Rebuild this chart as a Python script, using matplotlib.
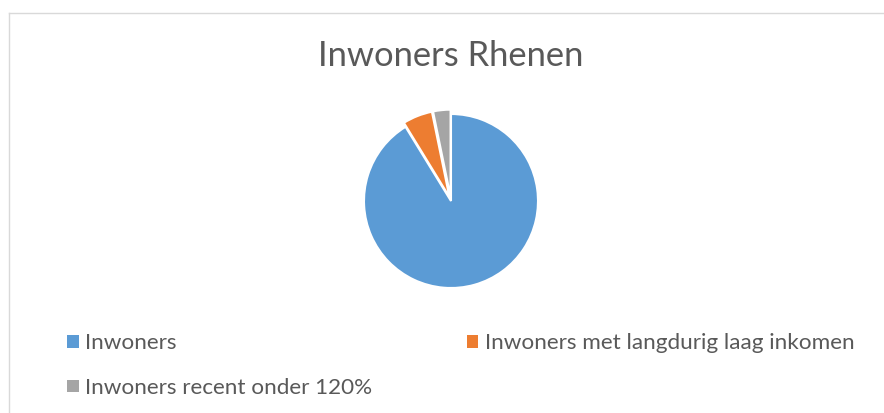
import matplotlib
matplotlib.use('Agg')
import matplotlib.pyplot as plt
from matplotlib.lines import Line2D

# Data
labels = ['Inwoners', 'Inwoners met langdurig laag inkomen', 'Inwoners recent onder 120%']
values = [19800, 1200, 700]
colors = ['#5B9BD5', '#ED7D31', '#A5A5A5']
explode = [0.0, 0.05, 0.05]

plt.rcParams['font.family'] = ['Lato', 'DejaVu Sans']

W, H = 884, 413
fig = plt.figure(figsize=(W / 100, H / 100), dpi=100)

# light border on top and left, like the cropped chart area
fig.add_artist(Line2D([9 / W, 9 / W], [0, 1 - 13 / H], transform=fig.transFigure, color='#D9D9D9', lw=1))
fig.add_artist(Line2D([9 / W, 1], [1 - 13 / H, 1 - 13 / H], transform=fig.transFigure, color='#D9D9D9', lw=1))

cx, cy, r = 451, 201, 87
ax = fig.add_axes([(cx - r) / W, (H - cy - r) / H, 2 * r / W, 2 * r / H])
wedges, _ = ax.pie(values, colors=colors, startangle=90, counterclock=False,
                   explode=explode, radius=1.0,
                   wedgeprops=dict(edgecolor='white', linewidth=1.5))
ax.set_xlim(-1, 1)
ax.set_ylim(-1, 1)
ax.set_aspect('auto')
ax.axis('off')

fig.text(451 / W, 1 - 56 / H, 'Inwoners Rhenen', ha='center', va='center',
         fontsize=24.8, color='#595959')

# legend: row-major order for two columns
order = [0, 2, 1]
leg = fig.legend([wedges[i] for i in order], [labels[i] for i in order],
                 ncol=2, loc='upper left', bbox_to_anchor=(56 / W, 1 - 322 / H),
                 frameon=False, fontsize=16.2, handlelength=0.5, handleheight=0.5,
                 handletextpad=0.3, columnspacing=4.2, labelspacing=1.1,
                 borderpad=0, labelcolor='#595959')
for h in leg.legend_handles:
    h.set_edgecolor('none')

fig.savefig('out.png', dpi=100)
